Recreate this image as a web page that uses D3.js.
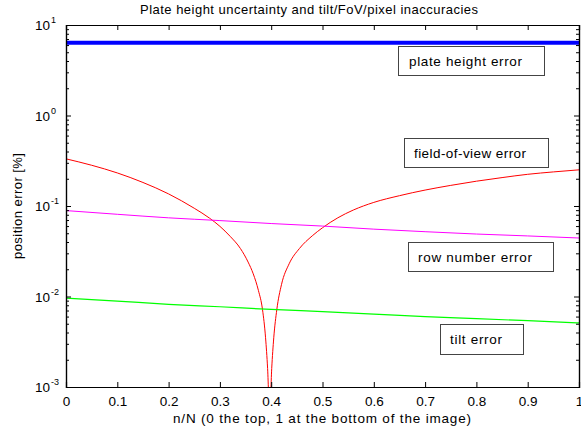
<!DOCTYPE html>
<html>
<head>
<meta charset="utf-8">
<script src="https://cdn.jsdelivr.net/npm/d3@7"></script>
<style>
  body { margin: 0; background: #fff; }
  svg text { font-family: "Liberation Sans", Arial, sans-serif; fill: #000; }
</style>
</head>
<body>
<div id="wrapper"></div>
<script>
// Data
const xTicks = [0, 0.1, 0.2, 0.3, 0.4, 0.5, 0.6, 0.7, 0.8, 0.9, 1]
const yDecades = [1e-3, 1e-2, 1e-1, 1, 10]
const yExponents = ['-3', '-2', '-1', '0', '1']

const plateX = [0, 1]
const plateY = [6.35, 6.35]

const fovX = [0, 0.05, 0.1, 0.15, 0.2, 0.25, 0.28, 0.3, 0.32, 0.34, 0.355, 0.365, 0.375,
  0.383, 0.389, 0.393, 0.397, 0.401, 0.405, 0.411, 0.42, 0.435, 0.455, 0.48, 0.5, 0.53,
  0.56, 0.6, 0.65, 0.7, 0.75, 0.8, 0.85, 0.9, 0.95, 1]
const fovY = [0.332, 0.282, 0.232, 0.182, 0.136, 0.0944, 0.0733, 0.0596, 0.0462, 0.0339, 0.024, 0.0178, 0.0117,
  0.0072, 0.0035, 0.0016, 0.0005, 0.0016, 0.0035, 0.0072, 0.0135, 0.023, 0.0339, 0.0468, 0.0575, 0.0741,
  0.0902, 0.1096, 0.13, 0.15, 0.169, 0.188, 0.206, 0.224, 0.238, 0.251]

const rowX = [0, 0.1, 0.2, 0.3, 0.4, 0.5, 0.6, 0.7, 0.8, 0.9, 1]
const rowY = [0.089, 0.081, 0.074, 0.069, 0.064, 0.06, 0.0555, 0.052, 0.049, 0.0467, 0.0443]

const tiltX = [0, 0.1, 0.2, 0.3, 0.4, 0.5, 0.6, 0.7, 0.8, 0.9, 1]
const tiltY = [0.0096, 0.0089, 0.0082, 0.0077, 0.0072, 0.0068, 0.0064, 0.006, 0.0057, 0.0054, 0.0051]

const labels = ['plate height error', 'field-of-view error', 'row number error', 'tilt error']

const width = 581
const height = 430
const margins = { top: 25, right: 2, bottom: 43, left: 66 }

const wrapper = d3.select('#wrapper').append('svg')
  .attr('width', width)
  .attr('height', height)

const xScale = d3.scaleLinear()
  .domain([0, 1])
  .range([margins.left, width - margins.right])

const yScale = d3.scaleLog()
  .domain([1e-3, 10])
  .range([height - margins.bottom, margins.top])

// clip for data lines
wrapper.append('clipPath').attr('id', 'plotclip')
  .append('rect')
  .attr('x', xScale(0)).attr('y', yScale(10))
  .attr('width', xScale(1) - xScale(0))
  .attr('height', yScale(1e-3) - yScale(10))

const line = d3.line()
  .x(d => xScale(d[0]))
  .y(d => yScale(d[1]))
  .curve(d3.curveMonotoneX)

const series = [
  { x: plateX, y: plateY, color: '#0000ff', w: 4 },
  { x: fovX, y: fovY, color: '#ff0000', w: 1 },
  { x: rowX, y: rowY, color: '#ff00ff', w: 1 },
  { x: tiltX, y: tiltY, color: '#00ff00', w: 1.2 }
]

const lines = wrapper.append('g').attr('clip-path', 'url(#plotclip)')
series.forEach(s => {
  lines.append('path')
    .datum(s.x.map((v, i) => [v, s.y[i]]))
    .attr('d', line)
    .attr('fill', 'none')
    .attr('stroke', s.color)
    .attr('stroke-width', s.w)
})

// minor log ticks
const minorTicks = []
for (let e = -3; e < 1; e++) {
  for (let m = 2; m <= 9; m++) minorTicks.push(m * Math.pow(10, e))
}

// axes
const xAxisBottom = wrapper.append('g')
  .attr('transform', `translate(0,${yScale(1e-3)})`)
  .call(d3.axisBottom(xScale).tickValues(xTicks).tickSize(-5).tickPadding(9)
    .tickFormat(d3.format('')))
const xAxisTop = wrapper.append('g')
  .attr('transform', `translate(0,${yScale(10)})`)
  .call(d3.axisTop(xScale).tickValues(xTicks).tickSize(-5).tickFormat(''))

const yAxisLeft = wrapper.append('g')
  .attr('transform', `translate(${xScale(0)},0)`)
  .call(d3.axisLeft(yScale).tickValues(yDecades).tickSize(-5).tickFormat(''))
const yMinorLeft = wrapper.append('g')
  .attr('transform', `translate(${xScale(0)},0)`)
  .call(d3.axisLeft(yScale).tickValues(minorTicks).tickSize(-3).tickFormat(''))
const yAxisRight = wrapper.append('g')
  .attr('transform', `translate(${xScale(1)},0)`)
  .call(d3.axisRight(yScale).tickValues(yDecades).tickSize(-5).tickFormat(''))
const yMinorRight = wrapper.append('g')
  .attr('transform', `translate(${xScale(1)},0)`)
  .call(d3.axisRight(yScale).tickValues(minorTicks).tickSize(-3).tickFormat(''))

wrapper.selectAll('.domain').attr('stroke', '#000').attr('stroke-width', 1.2)
wrapper.selectAll('.tick line').attr('stroke', '#000')
xAxisBottom.selectAll('text').style('font-size', '13.5px').attr('fill', '#000')
  .style('font-family', '"Liberation Sans", Arial, sans-serif')

// y tick labels with superscripts
const yLabels = wrapper.append('g')
yDecades.forEach((d, i) => {
  const t = yLabels.append('text')
    .attr('x', 35)
    .attr('y', yScale(d) + 5)
    .style('font-size', '13.5px')
  t.append('tspan').text('10')
  t.append('tspan').attr('dx', 1).attr('dy', -7).style('font-size', '9px').text(yExponents[i])
})

// title and axis labels
wrapper.append('text')
  .attr('x', 309)
  .attr('y', 14)
  .attr('text-anchor', 'middle')
  .attr('textLength', 338)
  .attr('lengthAdjust', 'spacing')
  .style('font-size', '13px')
  .text('Plate height uncertainty and tilt/FoV/pixel inaccuracies')

wrapper.append('text')
  .attr('x', 322)
  .attr('y', 423)
  .attr('text-anchor', 'middle')
  .attr('textLength', 298)
  .attr('lengthAdjust', 'spacing')
  .style('font-size', '13.5px')
  .text('n/N (0 the top, 1 at the bottom of the image)')

wrapper.append('text')
  .attr('transform', `translate(22,${(yScale(1e-3) + yScale(10)) / 2}) rotate(-90)`)
  .attr('text-anchor', 'middle')
  .attr('textLength', 106)
  .attr('lengthAdjust', 'spacing')
  .style('font-size', '13px')
  .text('position error [%]')

// annotation boxes: [x, y, w, h, text x, text width]
const boxPos = [
  [398, 46, 146, 29, 409, 113],
  [404, 138, 144, 29, 414, 112],
  [408, 242, 145, 29, 418, 114],
  [440, 324, 83, 30, 450, 52]
]
labels.forEach((lab, i) => {
  const [bx, by, bw, bh, tx, tw] = boxPos[i]
  wrapper.append('rect')
    .attr('x', bx + 0.5).attr('y', by + 0.5)
    .attr('width', bw).attr('height', bh)
    .attr('fill', '#fff')
    .attr('stroke', '#444')
    .attr('stroke-width', 1)
  wrapper.append('text')
    .attr('x', tx)
    .attr('y', by + bh / 2 + 5)
    .attr('textLength', tw)
    .attr('lengthAdjust', 'spacing')
    .style('font-size', '13.5px')
    .text(lab)
})
</script>
</body>
</html>
